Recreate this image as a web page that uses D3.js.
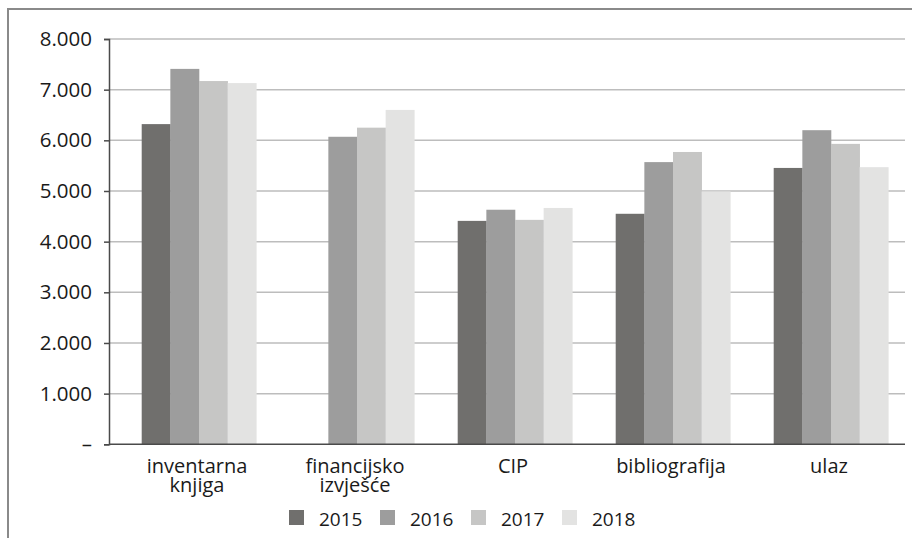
<!DOCTYPE html>
<html>
<head>
<meta charset="utf-8">
<script src="https://cdn.jsdelivr.net/npm/d3@7"></script>
<style>
  html, body { margin: 0; padding: 0; background: #fff; }
  svg { display: block; font-family: "Open Sans", "Noto Sans", sans-serif; }
</style>
</head>
<body>
<svg id="chart" width="922" height="538"></svg>
<script>
const categories = [["inventarna", "knjiga"], ["financijsko", "izvješće"], ["CIP"], ["bibliografija"], ["ulaz"]];
const categoryKeys = ["inventarna knjiga", "financijsko izvješće", "CIP", "bibliografija", "ulaz"];
const years = ["2015", "2016", "2017", "2018"];
const values2015 = [6320, null, 4410, 4550, 5455];
const values2016 = [7410, 6070, 4630, 5570, 6200];
const values2017 = [7170, 6250, 4430, 5770, 5930];
const values2018 = [7130, 6600, 4665, 4990, 5470];
const yTicks = [0, 1000, 2000, 3000, 4000, 5000, 6000, 7000, 8000];
const colors = ["#706f6d", "#9d9d9d", "#c6c6c5", "#e3e3e2"];

const series = [values2015, values2016, values2017, values2018];
const svg = d3.select("#chart");

// frame
svg.append("path")
  .attr("d", "M8,538 V9 H912")
  .attr("fill", "none").attr("stroke", "#8a8a8a").attr("stroke-width", 2);

const y = d3.scaleLinear().domain([0, 8000]).range([444.3, 39]);
const x = d3.scaleBand().domain(categoryKeys).range([120, 910]).padding(0);
const xs = d3.scaleBand().domain(years).range([21.7, 136.3]).padding(0);

// gridlines
svg.append("g").selectAll("line").data(yTicks.filter(d => d > 0)).join("line")
  .attr("x1", 109).attr("x2", 905)
  .attr("y1", d => y(d)).attr("y2", d => y(d))
  .attr("stroke", "#bdbdbd").attr("stroke-width", 1.5);

// bars
const groups = svg.append("g").selectAll("g").data(categoryKeys).join("g")
  .attr("transform", d => `translate(${x(d)},0)`);
groups.selectAll("rect")
  .data((d, i) => years.map((yr, j) => ({ yr, v: series[j][i], c: colors[j] })).filter(e => e.v != null))
  .join("rect")
  .attr("x", d => xs(d.yr))
  .attr("width", xs.bandwidth() + 0.3)
  .attr("y", d => y(d.v))
  .attr("height", d => y(0) - y(d.v))
  .attr("fill", d => d.c);

// y axis
const fmt = d => d === 0 ? "–" : d3.format(",")(d).replace(/,/g, ".");
const yAxis = d3.axisLeft(y).tickValues(yTicks).tickSize(5).tickPadding(12).tickFormat(fmt);
const ya = svg.append("g").attr("transform", "translate(109,0)").call(yAxis);
ya.select(".domain").attr("stroke", "#4a4a4a").attr("stroke-width", 1.5);
ya.selectAll(".tick line").attr("stroke", "#4a4a4a").attr("stroke-width", 1.5);
ya.selectAll(".tick text").attr("font-size", 20.5).attr("fill", "#1a1a1a")
  .attr("font-family", "'Open Sans', sans-serif");

// x baseline
svg.append("line").attr("x1", 109).attr("x2", 905)
  .attr("y1", y(0)).attr("y2", y(0))
  .attr("stroke", "#4a4a4a").attr("stroke-width", 1.5);

// x labels
const xl = svg.append("g").selectAll("text").data(categoryKeys).join("text")
  .attr("text-anchor", "middle")
  .attr("font-size", 20).attr("fill", "#1a1a1a")
  .attr("transform", d => `translate(${x(d) + x.bandwidth() / 2 - 2},473)`);
xl.each(function(d, i) {
  d3.select(this).selectAll("tspan").data(categories[i]).join("tspan")
    .attr("x", 0).attr("dy", (t, k) => k === 0 ? 0 : 19).text(t => t);
});

// legend
const leg = svg.append("g").selectAll("g").data(years).join("g")
  .attr("transform", (d, i) => `translate(${289 + i * 91},510)`);
leg.append("rect").attr("width", 15).attr("height", 15).attr("fill", (d, i) => colors[i]);
leg.append("text").attr("x", 30).attr("y", 16).attr("font-size", 19).attr("fill", "#1a1a1a").text(d => d);
</script>
</body>
</html>
